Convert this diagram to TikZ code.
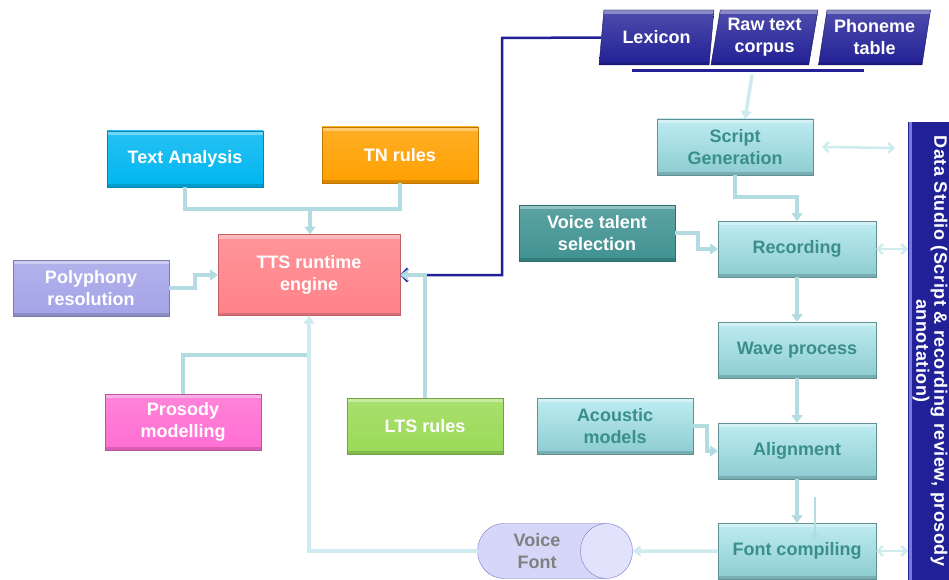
\documentclass[tikz,border=0pt]{standalone}
\usepackage{fontspec}
\setmainfont{Liberation Sans}
\usetikzlibrary{arrows.meta, shapes.geometric, calc}
\definecolor{navy}{RGB}{34, 32, 150}
\definecolor{navyhi}{RGB}{120, 120, 225}
\definecolor{ltline}{RGB}{178, 220, 225}
\definecolor{ltpale}{RGB}{206, 236, 240}
\definecolor{stagetop}{RGB}{190, 236, 241}
\definecolor{stagebot}{RGB}{140, 204, 208}
\definecolor{stagetext}{RGB}{58, 142, 142}
\definecolor{talent}{RGB}{64, 146, 146}
\definecolor{tacol}{RGB}{0, 182, 240}
\definecolor{tncol}{RGB}{255, 160, 0}
\definecolor{ttscol}{RGB}{255, 130, 136}
\definecolor{polycol}{RGB}{164, 164, 232}
\definecolor{proscol}{RGB}{255, 110, 210}
\definecolor{ltscol}{RGB}{154, 218, 86}
\definecolor{vfbody}{RGB}{214, 214, 248}
\definecolor{vfend}{RGB}{226, 226, 252}
\definecolor{vfdraw}{RGB}{118, 118, 204}

\begin{document}
\begin{tikzpicture}[x=1pt, y=-1pt,
    every node/.style={font=\fontsize{18}{22}\selectfont\bfseries, align=center, inner sep=2pt, outer sep=0pt},
    bevel/.style={path picture={
        \fill[white, opacity=0.35] (path picture bounding box.north west)
          rectangle ([yshift=-4pt]path picture bounding box.north east);
        \fill[black, opacity=0.15] ([yshift=3pt]path picture bounding box.south west)
          rectangle (path picture bounding box.south east);}},
    box/.style={bevel, draw=#1!75!black, top color=#1!85!white, bottom color=#1,
      minimum width=156, minimum height=56, text=white},
    stage/.style={bevel, draw=stagebot!70!black, top color=stagetop, bottom color=stagebot,
      minimum width=158, minimum height=56, text=stagetext},
    src/.style={trapezium, trapezium left angle=79, trapezium right angle=101,
      trapezium stretches=true, bevel, draw=navy!60!black, top color=navy!80!white,
      bottom color=navy, minimum height=55, text=white},
    lt/.style={draw=ltline, line width=3.5pt, arrows={-Triangle[length=8pt,width=11pt]}},
    ltplain/.style={draw=ltline, line width=3.5pt},
    dbl/.style={draw=ltpale, line width=2.5pt,
      arrows={Straight Barb[length=5pt,width=10pt]-Straight Barb[length=5pt,width=10pt]}},
    navyline/.style={draw=navy, line width=2.5pt, arrows={-Straight Barb[length=6pt,width=13pt]}},
  ]
  \useasboundingbox (0,0) rectangle (949,580);

  % data sources
  \node[src, minimum width=115] (lex) at (656.5,37.5) {Lexicon};
  \node[src, minimum width=108] (raw) at (764.5,37.5) {Raw text\\corpus};
  \node[src, minimum width=113] (pho) at (874.5,37.5) {Phoneme\\table};
  \coordinate (barl) at (632,71);
  \coordinate (barr) at (864,71);
  \coordinate (barmid) at (752,75);
  \draw[navy, line width=3pt] (barl) -- (barr);

  % runtime side
  \node[box=tacol] (ta) at (185,159) {Text Analysis};
  \node[box=tncol] (tn) at (400,155) {TN rules};
  \node[box=ttscol, minimum width=182, minimum height=81] (tts) at (309,275) {TTS runtime\\engine};
  \node[box=polycol] (poly) at (91,288) {Polyphony\\resolution};
  \node[box=proscol] (pros) at (183,422) {Prosody\\modelling};
  \node[box=ltscol] (lts) at (425,426) {LTS rules};

  % voice building side
  \node[stage, minimum width=156] (scr) at (735,147) {Script\\Generation};
  \node[box=talent] (vts) at (597,233) {Voice talent\\selection};
  \node[stage] (rec) at (797,249) {Recording};
  \node[stage] (wav) at (797,350) {Wave process};
  \node[stage, minimum width=156] (ac) at (615,426) {Acoustic\\models};
  \node[stage] (aln) at (797,451) {Alignment};
  \node[stage] (fc) at (797,551) {Font compiling};
  \node[cylinder, aspect=1.33, minimum width=55, minimum height=155, draw=vfdraw,
    cylinder uses custom fill, cylinder body fill=vfbody, cylinder end fill=vfend,
    text=gray] (vf) at (537,551) {Voice\\Font};
  \node[rotate=-90, fill=navy, minimum width=458, minimum height=44, text=white,
    font=\fontsize{18}{18}\selectfont\bfseries\addfontfeatures{LetterSpace=3}] (ds) at (930,351)
    {Data Studio (Script \& recording review, prosody\\annotation)};
  \draw[navyhi, line width=3pt] ([xshift=2pt]ds.south west) -- ([xshift=2pt]ds.south east);

  % connectors
  \coordinate (topjoin) at (310,209);
  \coordinate (botjoin) at (309,355);
  \coordinate (navyturn) at (502,38);
  \draw[ltplain] (ta.south) |- (topjoin);
  \draw[ltplain] (tn.south) |- (topjoin);
  \draw[lt] (topjoin) -- (topjoin |- tts.north);
  \draw[lt] (poly.east) -- ++(26,0) |- (tts.west);
  \draw[ltplain] (pros.north) |- (botjoin);
  \draw[lt, draw=ltpale] (vf.west) -| (tts.south);
  \draw[navyline] (lex.west) -- (navyturn) |- (tts.east);
  \draw[lt] (lts.north) |- (tts.east);

  \draw[lt, draw=ltpale] (barmid) -- ([xshift=10pt]scr.north);
  \draw[lt] (scr.south) -- ++(0,22) -| (rec.north);
  \draw[lt] (vts.east) -- ++(23,0) |- (rec.west);
  \draw[lt] (rec.south) -- (wav.north);
  \draw[lt] (wav.south) -- (aln.north);
  \draw[lt] (ac.east) -- ++(14,0) |- (aln.west);
  \draw[lt] (aln.south) -- (fc.north);
  \coordinate (thina) at (815,497);
  \coordinate (thinb) at (815,540);
  \draw[draw=ltline, line width=2pt, arrows={-Triangle[length=6pt,width=8pt]}] (thina) -- (thinb);
  \draw[lt, draw=ltpale] (fc.west) -- (vf.east);

  \coordinate (dsa) at (895,148);
  \draw[dbl] ([xshift=9pt]scr.east) -- (dsa);
  \draw[dbl] (rec.east) -- (rec.east -| ds.south);
  \draw[dbl] (fc.east) -- (fc.east -| ds.south);
\end{tikzpicture}
\end{document}
